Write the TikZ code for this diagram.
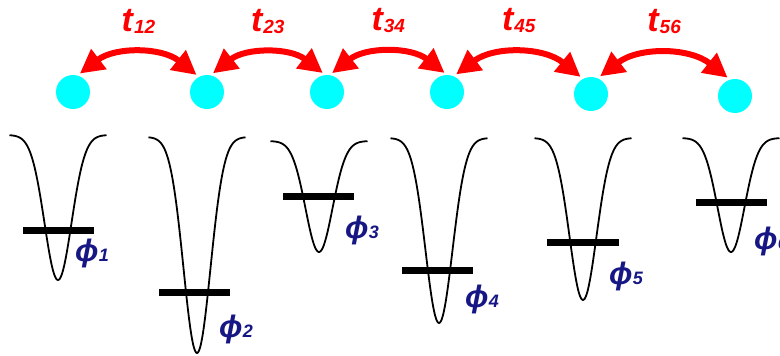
\documentclass[tikz,border=0pt]{standalone}
\usepackage{fontspec}
\setmainfont{Liberation Sans}
\usepackage{tikz}
\usetikzlibrary{arrows.meta}
\definecolor{hopred}{HTML}{FF0000}
\definecolor{sitecyan}{HTML}{00FFFF}
\definecolor{phiblue}{HTML}{161684}
\newcommand{\hop}[1]{t\kern1pt{\fontsize{19}{19}\selectfont\raisebox{-2pt}{#1}}}
\newcommand{\orb}[1]{ϕ\kern0.5pt{\fontsize{18}{18}\selectfont #1}}

\begin{document}
\begin{tikzpicture}[
    x=1pt, y=-1pt,
    site/.style={circle, fill=sitecyan, minimum size=34pt, inner sep=0pt},
    hoparr/.style={{Triangle[length=24pt, width=24pt]}-{Triangle[length=24pt, width=24pt]},
                   line width=6pt, hopred, shorten <=3pt, shorten >=3pt},
    tlabel/.style={font=\fontsize{34}{36}\selectfont\bfseries\itshape, text=hopred, inner sep=1pt},
    well/.style={line width=1.8pt, black, line join=round},
    level/.style={line width=7pt, black},
    orblabel/.style={font=\fontsize{31}{33}\selectfont\bfseries\itshape, text=phiblue, inner sep=0pt},
]
\useasboundingbox (0,0) rectangle (780,356);
% lattice sites
\node[site] (s1) at (73,92) {};
\node[site] (s2) at (207,92) {};
\node[site] (s3) at (327,92) {};
\node[site] (s4) at (447,92) {};
\node[site] (s5) at (591,94) {};
\node[site] (s6) at (735,96) {};
% hopping
\draw[hoparr] (s1.75) to[bend left=38] node[midway, above=17pt, tlabel] {\hop{12}} (s2.118);
\draw[hoparr] (s2.78) to[bend left=38] node[midway, above=17pt, tlabel] {\hop{23}} (s3.96);
\draw[hoparr] (s3.81) to[bend left=38] node[midway, above=17pt, tlabel] {\hop{34}} (s4.90);
\draw[hoparr] (s4.67) to[bend left=38] node[midway, above=17pt, tlabel] {\hop{45}} (s5.118);
\draw[hoparr] (s5.67) to[bend left=38] node[midway, above=17pt, tlabel] {\hop{56}} (s6.107);
% potential wells
\draw[well] plot[domain=-48.5:48.5, samples=90, smooth] ({58+\x},{135+145*exp(-(\x*\x)/365)});
\draw[well] plot[domain=-48.5:48.5, samples=90, smooth] ({197+\x},{137+216*exp(-(\x*\x)/365)});
\draw[well] plot[domain=-48.5:48.5, samples=90, smooth] ({319+\x},{141+111*exp(-(\x*\x)/365)});
\draw[well] plot[domain=-48.5:48.5, samples=90, smooth] ({439+\x},{138+185*exp(-(\x*\x)/365)});
\draw[well] plot[domain=-48.5:48.5, samples=90, smooth] ({583+\x},{138+162*exp(-(\x*\x)/365)});
\draw[well] plot[domain=-48.5:48.5, samples=90, smooth] ({731+\x},{138+114*exp(-(\x*\x)/365)});
% levels
\draw[level] (23,230) -- (94,230);
\draw[level] (159,292) -- (230,292);
\draw[level] (283,196) -- (354,196);
\draw[level] (402,270) -- (473,270);
\draw[level] (547,242) -- (619,242);
\draw[level] (696,202) -- (767,202);
\node[orblabel] (phi1) at (92,253) {\orb{1}};
\node[orblabel] (phi2) at (236,329) {\orb{2}};
\node[orblabel] (phi3) at (362,230) {\orb{3}};
\node[orblabel] (phi4) at (482,299) {\orb{4}};
\node[orblabel] (phi5) at (626,276) {\orb{5}};
\node[orblabel] (phi6) at (771,241) {\orb{6}};
\end{tikzpicture}
\end{document}
